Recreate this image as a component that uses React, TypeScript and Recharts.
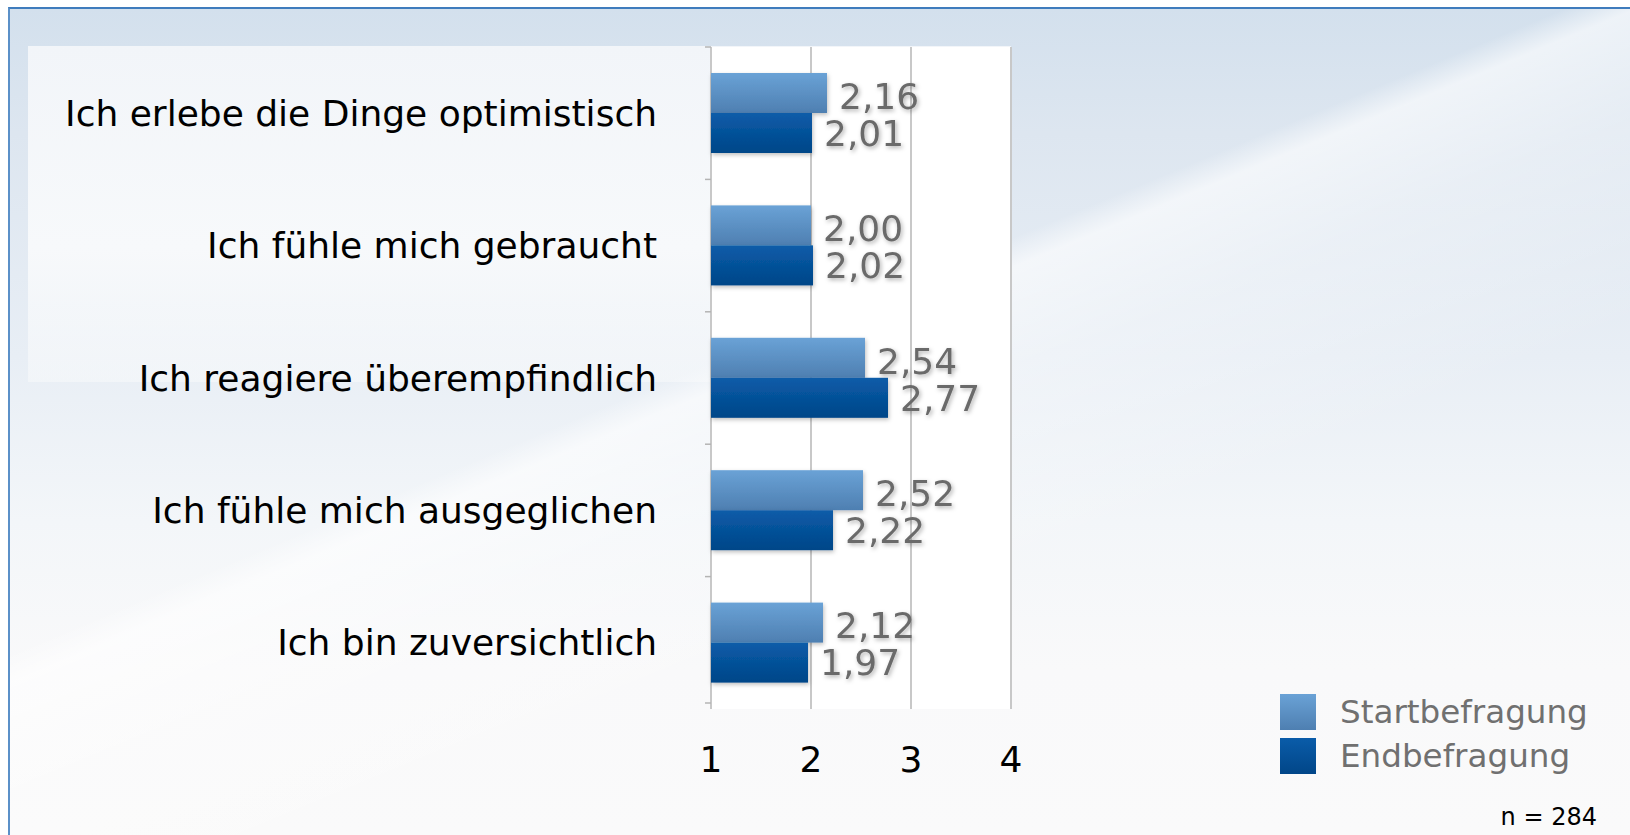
import React from "react";
import { BarChart, Bar, XAxis, YAxis, CartesianGrid, LabelList } from "recharts";

const categories = [
  "Ich erlebe die Dinge optimistisch",
  "Ich fühle mich gebraucht",
  "Ich reagiere überempfindlich",
  "Ich fühle mich ausgeglichen",
  "Ich bin zuversichtlich",
];
const startValues = [2.16, 2.0, 2.54, 2.52, 2.12];
const endValues = [2.01, 2.02, 2.77, 2.22, 1.97];
const xTicks = [1, 2, 3, 4];
const seriesNames = ["Startbefragung", "Endbefragung"];
const sampleNote = "n = 284";

const data = categories.map((c, i) => ({
  name: c,
  start: startValues[i],
  end: endValues[i],
}));

const FONT = "'DejaVu Sans', 'Noto Sans', sans-serif";
const fmt = (v: any) => Number(v).toFixed(2).replace(".", ",");
const TICK_SIZE = 6;
const TICK_MARGIN = 48;

const makeShape = (grad: string) => (p: any) => (
  <rect
    x={p.x}
    y={p.y}
    width={Math.max(0, p.width)}
    height={p.height}
    fill={`url(#${grad})`}
    filter="url(#barShadow)"
  />
);

const CategoryTick = (props: any) => {
  const { x, y, payload } = props;
  const axisX = x + TICK_SIZE + TICK_MARGIN;
  const half = payload && payload.offset ? payload.offset : 0;
  const isLast = payload && payload.index === categories.length - 1;
  return (
    <g>
      <line x1={axisX - 6} x2={axisX} y1={y - half} y2={y - half} stroke="#b4b4b4" strokeWidth={1.5} />
      {isLast && (
        <line x1={axisX - 6} x2={axisX} y1={y + half - 6} y2={y + half - 6} stroke="#b4b4b4" strokeWidth={1.5} />
      )}
      <text
        x={x}
        y={y}
        textAnchor="end"
        dominantBaseline="central"
        fontSize={36}
        fill="#000"
        fontFamily={FONT}
      >
        {payload.value}
      </text>
    </g>
  );
};

export default function App() {
  return (
    <div
      style={{
        position: "absolute",
        left: 0,
        top: 0,
        width: 1630,
        height: 835,
        background: "#ffffff",
        overflow: "hidden",
        fontFamily: FONT,
      }}
    >
      <div
        style={{
          position: "absolute",
          left: 8,
          top: 7,
          width: 1622,
          height: 828,
          borderLeft: "2px solid #5b90c8",
          borderTop: "2px solid #3f7cbd",
          boxSizing: "border-box",
          background:
            "linear-gradient(157.5deg, rgba(255,255,255,0) 0%, rgba(255,255,255,0) 43%, rgba(255,255,255,0.6) 45%, rgba(255,255,255,0.3) 52%, rgba(255,255,255,0) 66%), linear-gradient(to bottom, #d3e0ed 0%, #dde6f0 15%, #e8eef5 42%, #f3f6f9 62%, #f9f9fa 80%, #fafafa 100%)",
        }}
      />
      <div
        style={{
          position: "absolute",
          left: 28,
          top: 46,
          width: 983,
          height: 336,
          background: "linear-gradient(to bottom, #f2f5f9 0%, #f7f9fb 60%, rgba(250,251,252,0.5) 100%)",
        }}
      />
      <div style={{ position: "absolute", left: 0, top: 0 }}>
        <BarChart
          width={1630}
          height={835}
          data={data}
          layout="vertical"
          margin={{ top: 47, right: 619, bottom: 0, left: 0 }}
          barGap={0}
        >
          <defs>
            <linearGradient id="gStart" x1="0" y1="0" x2="0" y2="1">
              <stop offset="0%" stopColor="#6aa2d6" />
              <stop offset="100%" stopColor="#4e7fb1" />
            </linearGradient>
            <linearGradient id="gEnd" x1="0" y1="0" x2="0" y2="1">
              <stop offset="0%" stopColor="#0a5ca9" />
              <stop offset="100%" stopColor="#014688" />
            </linearGradient>
            <filter id="barShadow" x="-10%" y="-20%" width="130%" height="160%">
              <feDropShadow dx="1" dy="2" stdDeviation="2" floodColor="#000" floodOpacity="0.25" />
            </filter>
            <filter id="txtShadow" x="-20%" y="-30%" width="150%" height="170%">
              <feDropShadow dx="1.5" dy="2" stdDeviation="2" floodColor="#000" floodOpacity="0.3" />
            </filter>
          </defs>
          <CartesianGrid
            horizontal={false}
            vertical={true}
            fill="#ffffff"
            stroke="#c8c8c8"
            strokeWidth={2}
          />
          <XAxis
            type="number"
            domain={[1, 4]}
            ticks={xTicks}
            height={126}
            axisLine={false}
            tickLine={false}
            tickMargin={31}
            tick={{ fontSize: 36, fill: "#000", fontFamily: FONT }}
            interval={0}
          />
          <YAxis
            type="category"
            dataKey="name"
            width={711}
            axisLine={false}
            tickLine={false}
            tickSize={TICK_SIZE}
            tickMargin={TICK_MARGIN}
            tick={<CategoryTick />}
            interval={0}
          />
          <Bar
            dataKey="start"
            name={seriesNames[0]}
            barSize={40}
            isAnimationActive={false}
            shape={makeShape("gStart")}
          >
            <LabelList
              dataKey="start"
              position="right"
              offset={12}
              dy={3}
              formatter={fmt}
              fill="#6b6b6b"
              fontSize={36}
              fontFamily={FONT}
              filter="url(#txtShadow)"
            />
          </Bar>
          <Bar
            dataKey="end"
            name={seriesNames[1]}
            barSize={40}
            isAnimationActive={false}
            shape={makeShape("gEnd")}
          >
            <LabelList
              dataKey="end"
              position="right"
              offset={12}
              formatter={fmt}
              fill="#6b6b6b"
              fontSize={36}
              fontFamily={FONT}
              filter="url(#txtShadow)"
            />
          </Bar>
        </BarChart>
      </div>
      <div style={{ position: "absolute", left: 1280, top: 692 }}>
        {seriesNames.map((n, i) => (
          <div
            key={n}
            style={{ display: "flex", alignItems: "center", height: 40, marginBottom: 4 }}
          >
            <div
              style={{
                width: 36,
                height: 36,
                background:
                  i === 0
                    ? "linear-gradient(to bottom, #6aa2d6, #4e7fb1)"
                    : "linear-gradient(to bottom, #0a5ca9, #014688)",
              }}
            />
            <span
              style={{
                marginLeft: 24,
                fontSize: 32.6,
                color: "#707070",
                lineHeight: "36px",
                fontFamily: FONT,
              }}
            >
              {n}
            </span>
          </div>
        ))}
      </div>
      <div
        style={{
          position: "absolute",
          right: 33,
          top: 802,
          fontSize: 24,
          color: "#000",
          lineHeight: "30px",
          fontFamily: FONT,
        }}
      >
        {sampleNote}
      </div>
    </div>
  );
}
